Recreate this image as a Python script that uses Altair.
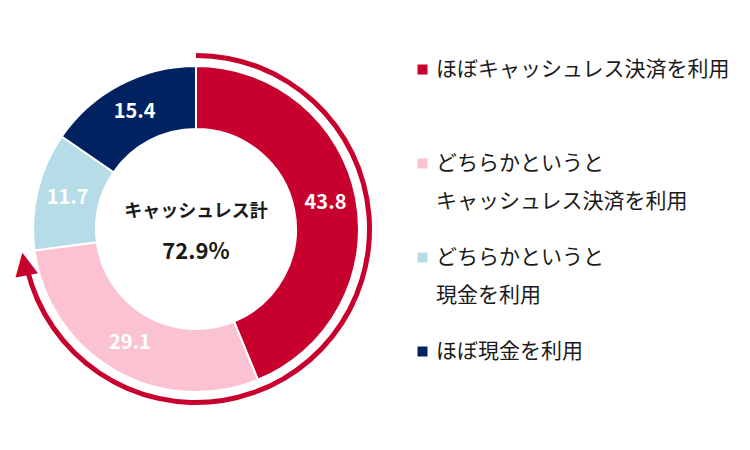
import altair as alt
import pandas as pd

FONT = "Noto Sans CJK JP"

categories = [
    "ほぼキャッシュレス決済を利用",
    "どちらかというとキャッシュレス決済を利用",
    "どちらかというと現金を利用",
    "ほぼ現金を利用",
]
legend_lines = [
    ["ほぼキャッシュレス決済を利用", " "],
    ["どちらかというと", "キャッシュレス決済を利用"],
    ["どちらかというと", "現金を利用"],
    ["ほぼ現金を利用", " "],
]
values = [43.8, 29.1, 11.7, 15.4]
colors = ["#C8002D", "#FBC3D1", "#B6DDE7", "#002261"]
center_title = "キャッシュレス計"
cashless_total = round(values[0] + values[1], 1)

W, H = 392, 400

df = pd.DataFrame({
    "category": categories,
    "value": values,
    "order": list(range(len(values))),
    "label": [f"{v:.1f}" for v in values],
})

# legend label expression (multi-line)
expr = ""
for cat, lines in zip(categories, legend_lines):
    arr = "[" + ",".join("'" + l + "'" for l in lines) + "]"
    expr += f"datum.label == '{cat}' ? {arr} : "
expr += "datum.label"

theta_scale = alt.Scale(domain=[0, 100])

base = alt.Chart(df).encode(
    theta=alt.Theta("value:Q", stack=True, scale=theta_scale),
    order=alt.Order("order:Q"),
)

donut = base.mark_arc(radius=163, radius2=100, stroke="white", strokeWidth=2).encode(
    color=alt.Color(
        "category:N",
        scale=alt.Scale(domain=categories, range=colors),
        legend=alt.Legend(
            title=None,
            orient="none",
            legendX=412,
            legendY=30,
            symbolType="square",
            symbolSize=100,
            symbolStrokeWidth=0,
            labelFont=FONT,
            labelFontSize=21,
            labelColor="#1a1a1a",
            labelLimit=0,
            labelOffset=3,
            labelExpr=expr,
            rowPadding=34,
            padding=0,
        ),
    )
)

labels = base.mark_text(
    radius=132, font=FONT, fontSize=20, fontWeight="bold", color="white"
).encode(text="label:N")

arrow_df = pd.DataFrame({
    "start": [0.0],
    "end": [cashless_total - 1.6],
    "head": [cashless_total - 1.0],
})
head_angle = (cashless_total - 1.0) / 100 * 360 - 270 + 360

arrow_arc = alt.Chart(arrow_df).mark_arc(radius=176, radius2=171, color=colors[0]).encode(
    theta=alt.Theta("start:Q", scale=theta_scale), theta2="end:Q"
)
arrow_head = alt.Chart(arrow_df).mark_text(
    radius=175, text="▲", angle=head_angle, fontSize=30, font="DejaVu Sans", color=colors[0]
).encode(theta=alt.Theta("head:Q", stack=False, scale=theta_scale))

center_df = pd.DataFrame({"title": [center_title], "total": [f"{cashless_total:.1f}%"]})
center1 = alt.Chart(center_df).mark_text(
    font=FONT, fontSize=18, fontWeight="bold", color="#1a1a1a", dy=-17
).encode(text="title:N", x=alt.value(W / 2), y=alt.value(H / 2))
center2 = alt.Chart(center_df).mark_text(
    font=FONT, fontSize=22, fontWeight="bold", color="#1a1a1a", dy=23
).encode(text="total:N", x=alt.value(W / 2), y=alt.value(H / 2))

chart = (
    alt.layer(donut, labels, arrow_arc, arrow_head, center1, center2)
    .properties(
        width=W,
        height=H,
        autosize="none",
        padding={"left": 0, "top": 29, "right": 750 - W, "bottom": 450 - 29 - H},
    )
    .configure(
        style={"guide-label": {"lineHeight": 38}},
        view=alt.ViewConfig(stroke=None),
    )
)

chart.save("out.html", embed_options={"renderer": "svg", "actions": False})
